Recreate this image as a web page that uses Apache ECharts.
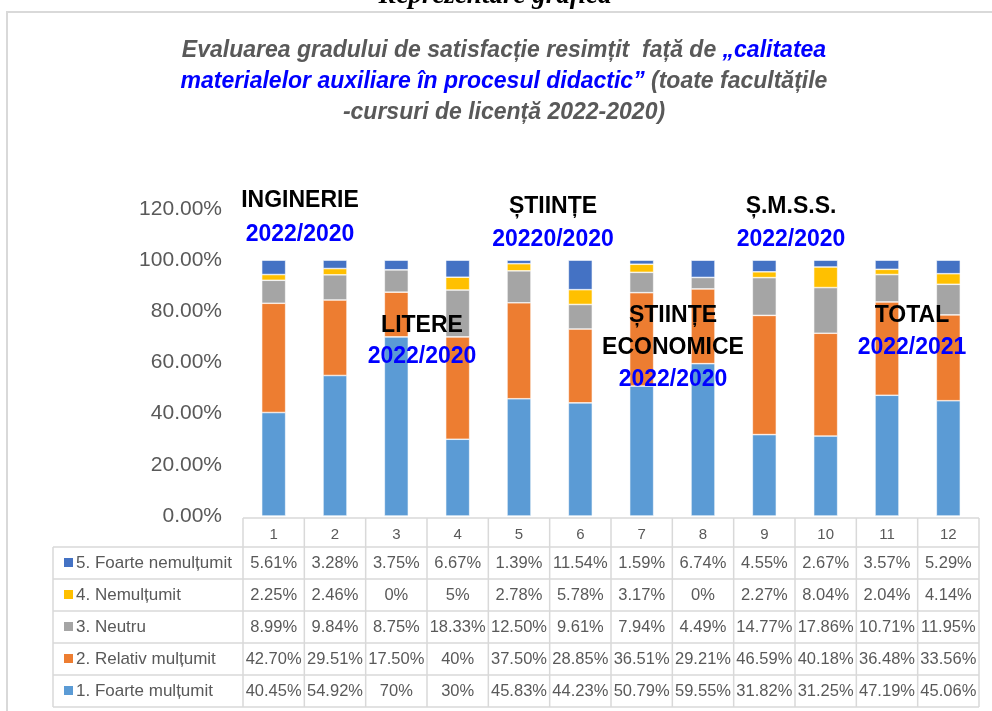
<!DOCTYPE html>
<html>
<head>
<meta charset="utf-8">
<script src="https://cdn.jsdelivr.net/npm/echarts@6/dist/echarts.min.js"></script>
<style>
html, body { margin: 0; padding: 0; background: #fff; }
#chart { width: 992px; height: 711px; }
</style>
</head>
<body>
<div id="chart"></div>
<script>
// date citite din tabelul graficului (procente)
var categories = ['1', '2', '3', '4', '5', '6', '7', '8', '9', '10', '11', '12'];
var foarteMultumit   = [40.45, 54.92, 70, 30, 45.83, 44.23, 50.79, 59.55, 31.82, 31.25, 47.19, 45.06];
var relativMultumit  = [42.70, 29.51, 17.50, 40, 37.50, 28.85, 36.51, 29.21, 46.59, 40.18, 36.48, 33.56];
var neutru           = [8.99, 9.84, 8.75, 18.33, 12.50, 9.61, 7.94, 4.49, 14.77, 17.86, 10.71, 11.95];
var nemultumit       = [2.25, 2.46, 0, 5, 2.78, 5.78, 3.17, 0, 2.27, 8.04, 2.04, 4.14];
var foarteNemultumit = [5.61, 3.28, 3.75, 6.67, 1.39, 11.54, 1.59, 6.74, 4.55, 2.67, 3.57, 5.29];

var seriesNames = ['1. Foarte mulțumit', '2. Relativ mulțumit', '3. Neutru', '4. Nemulțumit', '5. Foarte nemulțumit'];
var seriesData  = [foarteMultumit, relativMultumit, neutru, nemultumit, foarteNemultumit];
var colors      = ['#5B9BD5', '#ED7D31', '#A5A5A5', '#FFC000', '#4472C4'];

var yMin = 0, yMax = 120, yStep = 20;

// etichete facultati (text), pozitia se da mai jos
var facultati = [
    ['INGINERIE', '2022/2020'],
    ['LITERE', '2022/2020'],
    ['ȘTIINȚE', '20220/2020'],
    ['ȘTIINȚE', 'ECONOMICE', '2022/2020'],
    ['Ș.M.S.S.', '2022/2020'],
    ['TOTAL', '2022/2021']
];

var gray = '#595959';
var lineGray = '#d9d9d9';
var font = 'Liberation Sans, Arial, sans-serif';

function fmt(v) {
    return (Math.round(v) === v ? v : v.toFixed(2)) + '%';
}

var chart = echarts.init(document.getElementById('chart'));

var option = {
    animation: false,
    backgroundColor: '#fff',
    grid: { left: 243, right: 13, top: 209, bottom: 195, containLabel: false },
    xAxis: {
        type: 'category',
        data: categories,
        axisLine: { show: false },
        axisTick: { show: false },
        axisLabel: { color: gray, fontSize: 15, fontFamily: font, margin: 11 }
    },
    yAxis: {
        type: 'value',
        min: yMin, max: yMax, interval: yStep,
        splitLine: { show: false },
        axisLine: { show: false },
        axisTick: { show: false },
        axisLabel: {
            color: gray, fontSize: 21, fontFamily: font, margin: 21,
            formatter: function (v) { return v.toFixed(2) + '%'; }
        }
    },
    series: seriesNames.map(function (name, i) {
        return {
            name: name,
            type: 'bar',
            stack: 'total',
            barWidth: 24,
            data: seriesData[i],
            itemStyle: { color: colors[i], borderColor: '#ffffff', borderWidth: 0.6 }
        };
    })
};
chart.setOption(option);

// tabelul de date + titlu + etichete
function buildGraphics() {
    var g = [];
    var c0 = chart.convertToPixel({ xAxisIndex: 0 }, 0);
    var c1 = chart.convertToPixel({ xAxisIndex: 0 }, 1);
    var step = c1 - c0;
    var tableLeft = c0 - step / 2;
    var tableRight = tableLeft + step * categories.length;
    var zeroY = chart.convertToPixel({ yAxisIndex: 0 }, 0);
    var headTop = zeroY + 2;
    var rowTop = headTop + 29;
    var rowH = 32;
    var labelLeft = 53;
    var lineStyle = { stroke: lineGray, lineWidth: 1.5 };

    // rama
    g.push({ type: 'rect', shape: { x: 7, y: 12, width: 1100, height: 800 },
        style: { fill: null, stroke: lineGray, lineWidth: 2 }, z: 0 });

    // text taiat sus
    g.push({ type: 'text', x: 495, y: -4, style: {
        text: 'Reprezentare grafică', fill: '#000', font: 'italic bold 27px "Liberation Serif", serif',
        textAlign: 'center', textVerticalAlign: 'middle' } });

    // titlu
    g.push({ type: 'text', x: 504, y: 35, style: {
        text: '{g|Evaluarea gradului de satisfacție resimțit  față de }{b|„calitatea}\n' +
              '{b|materialelor auxiliare în procesul didactic”}{g| (toate facultățile}\n' +
              '{g|-cursuri de licență 2022-2020)}',
        textAlign: 'center', textVerticalAlign: 'top',
        rich: {
            g: { fill: gray, font: 'italic bold 23px ' + font, lineHeight: 31 },
            b: { fill: '#0000ff', font: 'italic bold 23px ' + font, lineHeight: 31 }
        } } });

    // linii tabel
    g.push({ type: 'line', shape: { x1: tableLeft, y1: headTop, x2: tableRight, y2: headTop }, style: lineStyle });
    for (var r = 0; r <= seriesNames.length; r++) {
        var y = rowTop + r * rowH;
        g.push({ type: 'line', shape: { x1: labelLeft, y1: y, x2: tableRight, y2: y }, style: lineStyle });
    }
    var bottom = rowTop + seriesNames.length * rowH;
    g.push({ type: 'line', shape: { x1: labelLeft, y1: rowTop, x2: labelLeft, y2: bottom }, style: lineStyle });
    for (var k = 0; k <= categories.length; k++) {
        var x = tableLeft + k * step;
        g.push({ type: 'line', shape: { x1: x, y1: headTop, x2: x, y2: bottom }, style: lineStyle });
    }

    // randuri: de sus in jos 5..1
    for (var s = seriesNames.length - 1, row = 0; s >= 0; s--, row++) {
        var cy = rowTop + row * rowH + rowH / 2;
        g.push({ type: 'rect', shape: { x: 64, y: cy - 5, width: 9, height: 9 }, style: { fill: colors[s] } });
        g.push({ type: 'text', x: 76, y: cy, style: {
            text: seriesNames[s], fill: gray, font: '17px ' + font, textVerticalAlign: 'middle' } });
        for (var i = 0; i < categories.length; i++) {
            g.push({ type: 'text', x: chart.convertToPixel({ xAxisIndex: 0 }, i), y: cy, style: {
                text: fmt(seriesData[s][i]), fill: gray, font: '16.5px ' + font,
                textAlign: 'center', textVerticalAlign: 'middle' } });
        }
    }

    // etichete facultati
    var pos = [
        { x: 300, y: [201, 235] },
        { x: 422, y: [326, 357] },
        { x: 553, y: [207, 240] },
        { x: 673, y: [316, 348, 380] },
        { x: 791, y: [207, 240] },
        { x: 912, y: [316, 348] }
    ];
    facultati.forEach(function (lines, fi) {
        lines.forEach(function (t, li) {
            var isYear = li === lines.length - 1;
            g.push({ type: 'text', x: pos[fi].x, y: pos[fi].y[li], z: 10, style: {
                text: t, fill: isYear ? '#0000ff' : '#000000', font: 'bold 23px ' + font,
                textAlign: 'center', textVerticalAlign: 'middle' } });
        });
    });

    chart.setOption({ graphic: g });
}
buildGraphics();
</script>
</body>
</html>
